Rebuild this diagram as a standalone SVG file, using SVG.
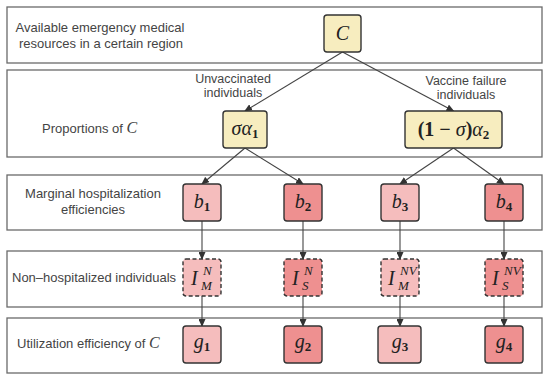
<svg xmlns="http://www.w3.org/2000/svg" width="550" height="381" viewBox="0 0 550 381">
<defs>
<style>
.row{fill:#fff;stroke:#6a6a6a;stroke-width:1.3}
.lbl{font-family:"Liberation Sans",Arial,sans-serif;font-size:13px;fill:#444}
.elbl{font-family:"Liberation Sans",Arial,sans-serif;font-size:12.5px;fill:#444;text-anchor:middle}
.node{stroke:#333;stroke-width:1.4}
.dash{stroke-dasharray:4 2.5}
.y{fill:#f7edbf}
.lp{fill:#f5bdbd}
.dp{fill:#ee9090}
.m{font-family:"Liberation Serif","Times New Roman",serif;font-style:italic;font-size:20px;fill:#222}
.mc{text-anchor:middle}
.b{font-weight:bold;font-style:normal}
.s{font-size:13px}
.conn line{stroke:#444;stroke-width:1.1;marker-end:url(#ah)}
</style>
<marker id="ah" markerWidth="8" markerHeight="7" refX="7" refY="3.5" orient="auto" markerUnits="userSpaceOnUse">
<path d="M0,0 L8,3.5 L0,7 Z" fill="#333"/>
</marker>
</defs>

<g id="rows">
<rect class="row" x="7" y="7" width="535" height="56"/>
<rect class="row" x="7" y="70" width="535" height="87"/>
<rect class="row" x="7" y="175" width="535" height="55"/>
<rect class="row" x="7" y="251" width="535" height="56"/>
<rect class="row" x="7" y="318" width="535" height="55"/>
</g>

<g id="row-labels">
<text class="lbl" x="100" y="32" text-anchor="middle">Available emergency medical</text>
<text class="lbl" x="101" y="48" text-anchor="middle">resources in a certain region</text>
<text class="lbl" x="42" y="133">Proportions of <tspan font-family="Liberation Serif,serif" font-style="italic" font-size="16">C</tspan></text>
<text class="lbl" x="93" y="198" text-anchor="middle">Marginal hospitalization</text>
<text class="lbl" x="93" y="214" text-anchor="middle">efficiencies</text>
<text class="lbl" x="12" y="282">Non–hospitalized individuals</text>
<text class="lbl" x="17" y="348">Utilization efficiency of <tspan font-family="Liberation Serif,serif" font-style="italic" font-size="16">C</tspan></text>
</g>

<g class="conn" id="connectors">
<line x1="342.5" y1="52" x2="245" y2="111"/>
<line x1="342.5" y1="52" x2="453.5" y2="111"/>
<line x1="245" y1="148" x2="202" y2="184"/>
<line x1="245" y1="148" x2="303" y2="184"/>
<line x1="453.5" y1="148" x2="400" y2="184"/>
<line x1="453.5" y1="148" x2="504" y2="184"/>
<line x1="202" y1="221" x2="202" y2="259"/>
<line x1="303" y1="221" x2="303" y2="259"/>
<line x1="400" y1="221" x2="400" y2="259"/>
<line x1="504" y1="221" x2="504" y2="259"/>
<line x1="202" y1="296" x2="202" y2="326"/>
<line x1="303" y1="296" x2="303" y2="326"/>
<line x1="400" y1="296" x2="400" y2="326"/>
<line x1="504" y1="296" x2="504" y2="326"/>
</g>

<g id="edge-labels">
<text class="elbl" x="233" y="83">Unvaccinated</text>
<text class="elbl" x="233" y="97">individuals</text>
<text class="elbl" x="466" y="85">Vaccine failure</text>
<text class="elbl" x="466" y="99">individuals</text>
</g>

<g id="node-C">
<rect class="node y" x="324" y="15" width="37" height="37" rx="3"/>
<text class="m mc" x="342.5" y="40">C</text>
</g>
<g id="node-sa1">
<rect class="node y" x="223" y="111" width="44" height="37" rx="3"/>
<text class="m mc" x="245" y="135" font-size="21">σα<tspan class="b s" dy="3">1</tspan></text>
</g>
<g id="node-1sa2">
<rect class="node y" x="405" y="111" width="97" height="37" rx="3"/>
<text class="m mc" x="453.5" y="136" font-size="21"><tspan class="b">(1 − </tspan>σ<tspan class="b">)</tspan>α<tspan class="b s" dy="3">2</tspan></text>
</g>

<g id="node-b1">
<rect class="node lp" x="183" y="184" width="38" height="37" rx="3"/>
<text class="m mc" x="202" y="208">b<tspan class="b s" dy="3">1</tspan></text>
</g>
<g id="node-b2">
<rect class="node dp" x="284" y="184" width="38" height="37" rx="3"/>
<text class="m mc" x="303" y="208">b<tspan class="b s" dy="3">2</tspan></text>
</g>
<g id="node-b3">
<rect class="node lp" x="381" y="184" width="38" height="37" rx="3"/>
<text class="m mc" x="400" y="208">b<tspan class="b s" dy="3">3</tspan></text>
</g>
<g id="node-b4">
<rect class="node dp" x="485" y="184" width="38" height="37" rx="3"/>
<text class="m mc" x="504" y="208">b<tspan class="b s" dy="3">4</tspan></text>
</g>

<g id="node-IMN">
<rect class="node lp dash" x="183" y="259" width="38" height="37" rx="3"/>
<text class="m" x="191" y="285">I</text>
<text class="m s" x="203" y="275">N</text>
<text class="m s" x="201" y="290">M</text>
</g>
<g id="node-ISN">
<rect class="node dp dash" x="284" y="259" width="38" height="37" rx="3"/>
<text class="m" x="292" y="285">I</text>
<text class="m s" x="304" y="275">N</text>
<text class="m s" x="302" y="290">S</text>
</g>
<g id="node-IMNV">
<rect class="node lp dash" x="381" y="259" width="38" height="37" rx="3"/>
<text class="m" x="388" y="285">I</text>
<text class="m s" x="400" y="275">NV</text>
<text class="m s" x="398" y="290">M</text>
</g>
<g id="node-ISNV">
<rect class="node dp dash" x="485" y="259" width="38" height="37" rx="3"/>
<text class="m" x="492" y="285">I</text>
<text class="m s" x="504" y="275">NV</text>
<text class="m s" x="502" y="290">S</text>
</g>

<g id="node-g1">
<rect class="node lp" x="183" y="326" width="38" height="37" rx="3"/>
<text class="m mc" x="202" y="348">g<tspan class="b s" dy="3">1</tspan></text>
</g>
<g id="node-g2">
<rect class="node dp" x="284" y="326" width="38" height="37" rx="3"/>
<text class="m mc" x="303" y="348">g<tspan class="b s" dy="3">2</tspan></text>
</g>
<g id="node-g3">
<rect class="node lp" x="378" y="326" width="43" height="37" rx="3"/>
<text class="m mc" x="400" y="348">g<tspan class="b s" dy="3">3</tspan></text>
</g>
<g id="node-g4">
<rect class="node dp" x="485" y="326" width="38" height="37" rx="3"/>
<text class="m mc" x="504" y="348">g<tspan class="b s" dy="3">4</tspan></text>
</g>
</svg>
